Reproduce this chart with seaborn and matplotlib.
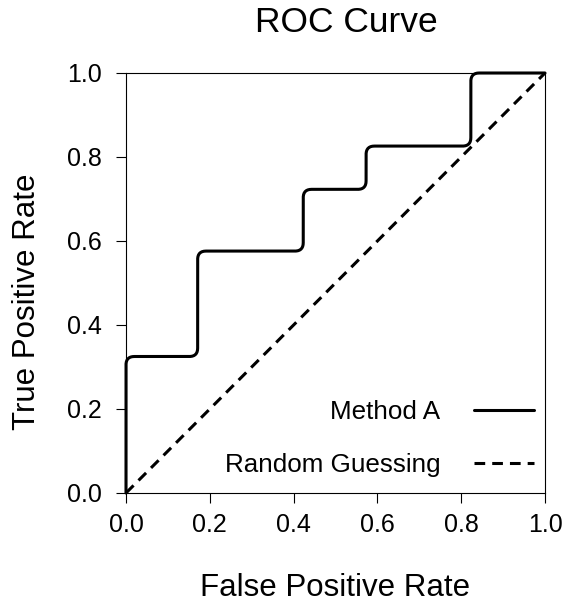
import numpy as np
import pandas as pd
import matplotlib
matplotlib.use("Agg")
import matplotlib.pyplot as plt
import seaborn as sns

# ---- data ----
fpr = [0.0, 0.0, 0.171, 0.171, 0.423, 0.423, 0.573, 0.573, 0.823, 0.823, 1.0]
tpr = [0.0, 0.325, 0.325, 0.576, 0.576, 0.723, 0.723, 0.826, 0.826, 1.0, 1.0]
diag_x = [0.0, 1.0]
diag_y = [0.0, 1.0]
x_ticks = [0.0, 0.2, 0.4, 0.6, 0.8, 1.0]
y_ticks = [0.0, 0.2, 0.4, 0.6, 0.8, 1.0]
tick_labels = ["0.0", "0.2", "0.4", "0.6", "0.8", "1.0"]
labels = ["Method A", "Random Guessing"]


def rounded_path(xs, ys, r=0.02, n=16):
    """Render the step corners with small rounded joins (geometry only)."""
    pts = np.column_stack([xs, ys]).astype(float)
    out = [pts[0]]
    for i in range(1, len(pts) - 1):
        p0, p1, p2 = pts[i - 1], pts[i], pts[i + 1]
        v1 = p1 - p0
        v2 = p2 - p1
        l1 = np.hypot(*v1)
        l2 = np.hypot(*v2)
        if l1 == 0 or l2 == 0:
            out.append(p1)
            continue
        a = p1 - v1 / l1 * min(r, l1 / 2)
        b = p1 + v2 / l2 * min(r, l2 / 2)
        t = np.linspace(0, 1, n)[:, None]
        bez = (1 - t) ** 2 * a + 2 * (1 - t) * t * p1 + t ** 2 * b
        out.extend(bez)
    out.append(pts[-1])
    out = np.array(out)
    return out[:, 0], out[:, 1]


sns.set_theme(style="ticks")
plt.rcParams["font.family"] = ["Liberation Sans", "DejaVu Sans"]
plt.rcParams["axes.linewidth"] = 0.8
plt.rcParams["axes.edgecolor"] = "black"
plt.rcParams["xtick.color"] = "black"
plt.rcParams["ytick.color"] = "black"
plt.rcParams["text.color"] = "black"
plt.rcParams["axes.labelcolor"] = "black"

fig = plt.figure(figsize=(5.62, 6.05), dpi=100)
ax = fig.add_axes([126 / 562, 112 / 605, 419 / 562, 420 / 605])

rx, ry = rounded_path(fpr, tpr)
roc_df = pd.DataFrame({"FPR": rx, "TPR": ry})
diag_df = pd.DataFrame({"FPR": diag_x, "TPR": diag_y})

sns.lineplot(data=roc_df, x="FPR", y="TPR", sort=False, estimator=None,
             color="black", linewidth=2.2, label=labels[0], ax=ax, clip_on=False)
sns.lineplot(data=diag_df, x="FPR", y="TPR", sort=False, estimator=None,
             color="black", linewidth=2.2, label=labels[1], ax=ax,
             dashes=False, clip_on=False)
ax.lines[-1].set_dashes((3.5, 2.3))

ax.set_xlim(0, 1)
ax.set_ylim(0, 1)
ax.set_xticks(x_ticks)
ax.set_yticks(y_ticks)
ax.set_xticklabels(tick_labels)
ax.set_yticklabels(tick_labels)
for s in ax.spines.values():
    s.set_visible(True)
    s.set_linewidth(0.8)
    s.set_color("black")
ax.tick_params(axis="both", direction="out", length=7.2, width=0.8,
               labelsize=18, color="black")
ax.tick_params(axis="x", pad=7)
ax.tick_params(axis="y", pad=10.5)

ax.set_xlabel("False Positive Rate", fontsize=22.5)
ax.set_ylabel("True Positive Rate", fontsize=22.5)
ax.xaxis.set_label_coords(0.5, -0.19)
ax.yaxis.set_label_coords(-0.201, 0.455)
ax.set_title("ROC Curve", fontsize=25.5, x=(346 - 126) / 419,
             y=(493 - 32) / 420, pad=0)

leg = ax.legend(loc="lower right", bbox_to_anchor=(0.973, 0.038), frameon=False,
                markerfirst=False, handlelength=2.3, handletextpad=1.3,
                labelspacing=1.1, fontsize=18.7, borderpad=0, borderaxespad=0)
leg.get_lines()[1].set_dashes((3.5, 2.3))

fig.savefig("out.png", dpi=100)
